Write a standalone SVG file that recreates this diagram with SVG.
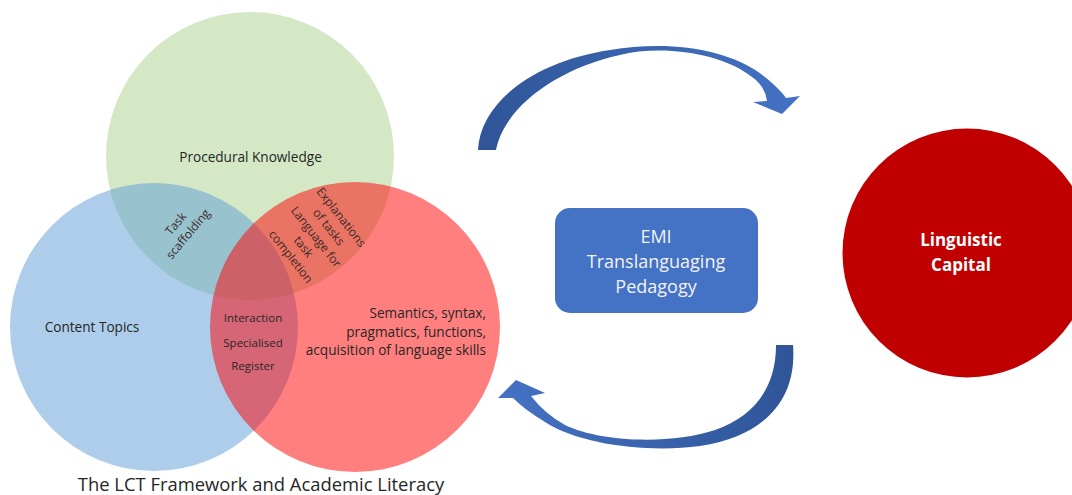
<svg xmlns="http://www.w3.org/2000/svg" width="1072" height="495" viewBox="0 0 1072 495">
  <defs>
    <style>
      .t { font-family: "Open Sans", "Liberation Sans", sans-serif; fill: #262626; }
      .venn { opacity: 0.5; }
      .lbl { font-size: 13.6px; }
      .ovl { font-size: 12px; fill: #3a2a2a; text-anchor: middle; }
      .emi { font-family: "Open Sans", "Liberation Sans", sans-serif; font-size: 18px; fill: #F2F2F2; text-anchor: middle; }
      .cap { font-family: "Open Sans", "Liberation Sans", sans-serif; font-size: 17px; font-weight: bold; fill: #FFFFFF; text-anchor: middle; }
    </style>
    <linearGradient id="gTop" x1="478" y1="0" x2="800" y2="0" gradientUnits="userSpaceOnUse">
      <stop offset="0" stop-color="#2F5597"/>
      <stop offset="1" stop-color="#4472C4"/>
    </linearGradient>
    <linearGradient id="gBot" x1="793" y1="0" x2="498" y2="0" gradientUnits="userSpaceOnUse">
      <stop offset="0" stop-color="#2F5597"/>
      <stop offset="1" stop-color="#4472C4"/>
    </linearGradient>
  </defs>
  <rect width="1072" height="495" fill="#FFFFFF"/>

  <g id="venn">
    <g id="procedural">
      <circle class="venn" cx="250" cy="156" r="144" fill="#A9D18E"/>
    </g>
    <g id="content">
      <circle class="venn" cx="154" cy="327" r="144" fill="#5B9BD5"/>
    </g>
    <g id="language">
      <circle class="venn" cx="355" cy="327" r="145" fill="#FF0000"/>
    </g>
    <g id="venn-labels">
      <text class="t lbl" x="250.5" y="162" text-anchor="middle">Procedural Knowledge</text>
      <text class="t lbl" x="92" y="332" text-anchor="middle">Content Topics</text>
      <g transform="translate(182,229) rotate(-50)">
        <text class="t ovl" x="0" y="-4">Task</text>
        <text class="t ovl" x="0" y="12">scaffolding</text>
      </g>
      <g transform="translate(316,237) rotate(52)">
        <text class="t ovl" x="0" y="-28">Explanations</text>
        <text class="t ovl" x="0" y="-12">of tasks</text>
        <text class="t ovl" x="0" y="4">Language for</text>
        <text class="t ovl" x="0" y="20">task</text>
        <text class="t ovl" x="0" y="36">completion</text>
      </g>
      <text class="t" x="253" y="322" font-size="11.5" fill="#3d2b2b" text-anchor="middle">Interaction</text>
      <text class="t" x="253" y="347" font-size="11.5" fill="#3d2b2b" text-anchor="middle">Specialised</text>
      <text class="t" x="253" y="370" font-size="11.5" fill="#3d2b2b" text-anchor="middle">Register</text>
      <text class="t lbl" x="486" y="318" text-anchor="end">Semantics, syntax,</text>
      <text class="t lbl" x="486" y="337" text-anchor="end">pragmatics, functions,</text>
      <text class="t lbl" x="486" y="355" text-anchor="end">acquisition of language skills</text>
    </g>
    <text id="title" class="t" x="261" y="491" font-size="18.4" fill="#1a1a1a" text-anchor="middle">The LCT Framework and Academic Literacy</text>
  </g>

  <g id="emi">
    <rect x="555" y="208" width="203" height="105" rx="15" fill="#4472C4"/>
    <text class="emi" x="656" y="243">EMI</text>
    <text class="emi" x="656" y="268">Translanguaging</text>
    <text class="emi" x="656" y="293">Pedagogy</text>
  </g>

  <g id="linguistic-capital">
    <circle cx="967" cy="253" r="124.5" fill="#C00000"/>
    <text class="cap" x="961" y="246">Linguistic</text>
    <text class="cap" x="961" y="271">Capital</text>
  </g>

  <g id="connectors">
    <path d="M478,150 C480,105 530,62 610,50 C670,40 735,48 772,83 Q782,92 786,98 L800,96 L782,114 L753,102 L767,101 Q765,86 752,77 C720,52 660,45 620,55 C560,68 505,105 496,150 Z" fill="url(#gTop)"/>
    <path d="M776,345 L793,345 C797,395 770,435 700,446 C650,453 580,445 545,422 Q525,410 513,398 L498,398 L516,380 L545,393 L531,396 Q545,414 565,425 C600,442 670,445 715,430 C752,417 776,390 776,345 Z" fill="url(#gBot)"/>
  </g>
</svg>
